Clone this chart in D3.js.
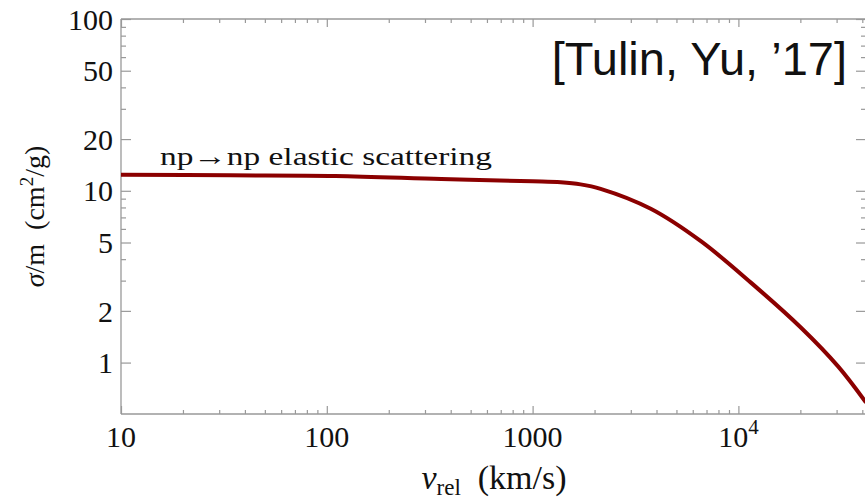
<!DOCTYPE html>
<html lang="en">
<head>
<meta charset="UTF-8">
<title>np elastic scattering cross section</title>
<script src="https://d3js.org/d3.v7.min.js"></script>
<style>
    body { margin: 0; background: #fff; }
    .frame { stroke: #999; stroke-width: 1.3px; }
    .tick line { stroke: #999; stroke-width: 1.2px; }
    .serif { font-family: "Liberation Serif", "Times New Roman", serif; fill: #111; }
    .curve { fill: none; stroke: #8b0000; stroke-width: 4px; }
</style>
</head>
<body>
<div id="chart"></div>
<script>
    // curve: relative velocity (km/s) vs sigma/m (cm^2/g)
    var vrel  = [10, 34, 110, 360, 1000, 1370, 1710, 2140, 3750, 6570, 11500, 20100, 30500, 41700];
    var sigma = [12.4, 12.3, 12.2, 11.7, 11.35, 11.2, 10.9, 10.27, 7.86, 5.09, 2.92, 1.6, 0.95, 0.585];

    var xMajor = [10, 100, 1000, 10000];
    var xLabels = ["10", "100", "1000", "10|4"];
    var xMinor = [20, 30, 40, 50, 60, 70, 80, 90, 200, 300, 400, 500, 600, 700, 800, 900,
                  2000, 3000, 4000, 5000, 6000, 7000, 8000, 9000, 20000, 30000, 40000];
    var yMajor = [1, 2, 5, 10, 20, 50, 100];
    var yMinor = [3, 4, 6, 7, 8, 9, 30, 40, 60, 70, 80, 90];

    function init() {
        var w = 865, h = 500;
        var pLeft = 121, pRight = 866, pTop = 19, pBottom = 414;

        var svg = d3.select("#chart").append("svg")
            .attr("width", w)
            .attr("height", h);

        var x = d3.scaleLog().domain([10, Math.pow(10, 4.62)]).range([pLeft, pRight]);
        var y = d3.scaleLog().domain([0.502, 100]).range([pBottom, pTop]);

        function tickAxis(axis, vals, size, fmt) {
            return axis.tickValues(vals).tickSize(size).tickPadding(8).tickFormat(fmt || "");
        }

        // left axis
        var gl = svg.append("g").attr("transform", "translate(" + pLeft + ",0)")
            .call(tickAxis(d3.axisLeft(y), yMajor, -10, d3.format("d")));
        svg.append("g").attr("transform", "translate(" + pLeft + ",0)")
            .call(tickAxis(d3.axisLeft(y), yMinor, -5));
        // right axis
        svg.append("g").attr("transform", "translate(" + pRight + ",0)")
            .call(tickAxis(d3.axisRight(y), yMajor, -10));
        svg.append("g").attr("transform", "translate(" + pRight + ",0)")
            .call(tickAxis(d3.axisRight(y), yMinor, -5));
        // bottom axis
        svg.append("g").attr("transform", "translate(0," + pBottom + ")")
            .call(tickAxis(d3.axisBottom(x), xMajor, -8));
        svg.append("g").attr("transform", "translate(0," + pBottom + ")")
            .call(tickAxis(d3.axisBottom(x), xMinor, -4));
        // top axis
        svg.append("g").attr("transform", "translate(0," + pTop + ")")
            .call(tickAxis(d3.axisTop(x), xMajor, -8));
        svg.append("g").attr("transform", "translate(0," + pTop + ")")
            .call(tickAxis(d3.axisTop(x), xMinor, -4));

        svg.selectAll(".domain").remove();

        gl.selectAll(".tick text")
            .attr("class", "serif")
            .attr("font-family", null)
            .attr("font-size", null)
            .style("font-size", "30px")
            .attr("dy", "0.34em");

        // bottom tick labels, with superscript for 10^4
        xMajor.forEach(function(v, i) {
            var parts = xLabels[i].split("|");
            var t = svg.append("text")
                .attr("class", "serif")
                .attr("x", x(v))
                .attr("y", 447)
                .attr("text-anchor", "middle")
                .style("font-size", "30px")
                .text(parts[0]);
            if (parts.length > 1) {
                t.append("tspan").attr("dy", -13).style("font-size", "21px").text(parts[1]);
            }
        });

        // frame
        svg.append("line").attr("class", "frame").attr("x1", pLeft).attr("x2", pLeft).attr("y1", pTop).attr("y2", pBottom);
        svg.append("line").attr("class", "frame").attr("x1", pLeft).attr("x2", pRight).attr("y1", pBottom).attr("y2", pBottom);
        svg.append("line").attr("class", "frame").attr("x1", pLeft).attr("x2", pRight).attr("y1", pTop).attr("y2", pTop);
        svg.append("line").attr("class", "frame").attr("x1", pRight).attr("x2", pRight).attr("y1", pTop).attr("y2", pBottom);

        var line = d3.line()
            .x(function(d, i) { return x(vrel[i]); })
            .y(function(d) { return y(d); })
            .curve(d3.curveCatmullRom.alpha(0.5));

        svg.append("path")
            .datum(sigma)
            .attr("class", "curve")
            .attr("d", line);

        // annotation (the original glyphs are drawn a bit wide)
        svg.append("text")
            .attr("class", "serif")
            .attr("x", 160)
            .attr("y", 165)
            .attr("textLength", 332)
            .attr("lengthAdjust", "spacingAndGlyphs")
            .style("font-size", "26px")
            .text("np\u2192np elastic scattering");

        svg.append("text")
            .attr("x", 847)
            .attr("y", 75)
            .attr("text-anchor", "end")
            .style("font-family", "'Liberation Sans', Arial, sans-serif")
            .style("font-size", "47px")
            .style("fill", "#111")
            .text("[Tulin, Yu, \u201917]");

        // axis titles
        var xt = svg.append("text")
            .attr("class", "serif")
            .attr("x", 494)
            .attr("y", 489)
            .attr("text-anchor", "middle")
            .style("font-size", "34px");
        xt.append("tspan").style("font-style", "italic").text("v");
        xt.append("tspan").attr("dy", 6).style("font-size", "23px").text("rel");
        xt.append("tspan").attr("dy", -6).text("\u00a0\u00a0(km/s)");

        var yt = svg.append("text")
            .attr("class", "serif")
            .attr("transform", "translate(44," + ((pTop + pBottom) / 2) + ") rotate(-90)")
            .attr("text-anchor", "middle")
            .style("font-size", "28px");
        yt.append("tspan").style("font-style", "italic").text("\u03c3");
        yt.append("tspan").text("/m\u00a0 (cm");
        yt.append("tspan").attr("dy", -11).style("font-size", "19px").text("2");
        yt.append("tspan").attr("dy", 11).text("/g)");
    }

    init();
</script>
</body>
</html>
